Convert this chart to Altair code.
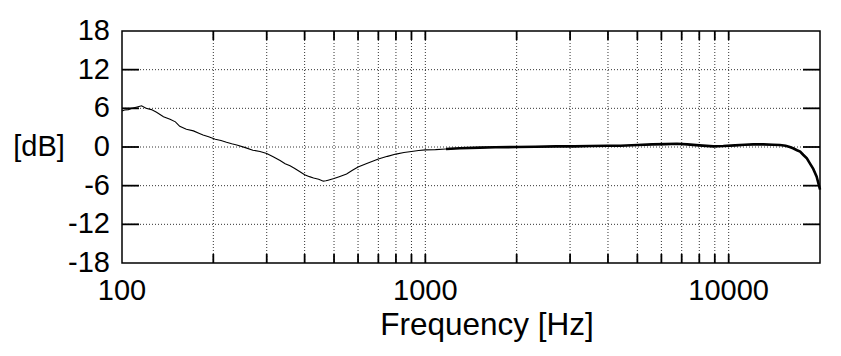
import altair as alt
import pandas as pd

# Frequency response
freq = [100, 102, 105, 108, 113, 116, 120, 125, 130, 137, 144, 150, 155, 163, 172, 180,
        185, 193, 203, 212, 221, 230, 239, 255, 270, 285, 300, 315, 332, 345, 358, 370,
        385, 400, 415, 428, 445, 461, 470, 478, 490, 500, 520, 550, 575, 600, 641, 670,
        700, 750, 800, 850, 900, 950, 1000, 1080, 1170, 1300, 1510, 1700, 2000, 2300,
        2700, 3100, 3500, 4000, 4400, 5000, 5600, 6200, 6750, 7300, 8000, 8900, 9600,
        10500, 11300, 12060, 13000, 14000, 14750, 15400, 15900, 16300, 16800, 17200,
        17600, 18100, 18500, 19000, 19500, 20000]
db = [5.6, 5.75, 5.8, 6.0, 6.26, 6.4, 6.0, 5.8, 5.4, 4.7, 4.3, 3.9, 3.2, 2.75, 2.5, 2.1,
      1.86, 1.6, 1.2, 1.0, 0.73, 0.5, 0.3, -0.1, -0.5, -0.7, -1.0, -1.5, -2.1, -2.6, -2.9, -3.3,
      -3.8, -4.3, -4.6, -4.8, -5.0, -5.3, -5.25, -5.15, -5.0, -4.9, -4.6, -4.2, -3.6, -3.1, -2.55, -2.2,
      -1.87, -1.45, -1.1, -0.85, -0.7, -0.55, -0.45, -0.4, -0.3, -0.2, -0.1, -0.05, 0.0, 0.05,
      0.1, 0.1, 0.15, 0.2, 0.2, 0.3, 0.4, 0.45, 0.5, 0.4, 0.25, 0.1, 0.15,
      0.25, 0.35, 0.4, 0.4, 0.35, 0.3, 0.2, 0.0, -0.2, -0.5, -0.7,
      -1.2, -1.75, -2.5, -3.4, -4.6, -6.6]

# Grid / tick positions and tick labels
x_lines = [200, 300, 400, 500, 600, 700, 800, 900, 1000, 2000, 3000, 4000, 5000,
           6000, 7000, 8000, 9000, 10000]
y_lines = [-12, -6, 0, 6, 12]
x_label_values = [100, 1000, 10000]
x_label_text = ["100", "1000", "10000"]
y_label_values = [-18, -12, -6, 0, 6, 12, 18]
y_label_text = ["-18", "-12", "-6", "0", "6", "12", "18"]
x_title = "Frequency [Hz]"
y_title = "[dB]"

W, H = 698, 232
FONT = "Liberation Sans"
XT, YT = 9, 17  # inward tick lengths

df = pd.DataFrame({"f": freq, "dB": db})
df_hf = df[df["f"] >= 1100]
xg = pd.DataFrame({"f": x_lines})
yg = pd.DataFrame({"dB": y_lines})
xl = pd.DataFrame({"f": x_label_values, "t": x_label_text})
yl = pd.DataFrame({"dB": y_label_values, "t": y_label_text})

xscale = alt.Scale(type="log", domain=[100, 20000], nice=False)
yscale = alt.Scale(domain=[-18, 18], nice=False, zero=False)
X = alt.X("f:Q", scale=xscale, axis=None)
Y = alt.Y("dB:Q", scale=yscale, axis=None)

grid_kw = dict(color="#333333", strokeWidth=1, strokeDash=[1, 2])
tick_kw = dict(color="black", strokeWidth=1.8)

grid_x = alt.Chart(xg).mark_rule(**grid_kw).encode(x=X, y=alt.value(0), y2=alt.value(H))
grid_y = alt.Chart(yg).mark_rule(**grid_kw).encode(y=Y, x=alt.value(0), x2=alt.value(W))

tick_left = alt.Chart(yg).mark_rule(**tick_kw).encode(y=Y, x=alt.value(0), x2=alt.value(YT))
tick_right = alt.Chart(yg).mark_rule(**tick_kw).encode(y=Y, x=alt.value(W - YT), x2=alt.value(W))
tick_bottom = alt.Chart(xg).mark_rule(**tick_kw).encode(x=X, y=alt.value(H - XT), y2=alt.value(H))
tick_top = alt.Chart(xg).mark_rule(**tick_kw).encode(x=X, y=alt.value(0), y2=alt.value(XT))

line = alt.Chart(df).mark_line(color="black", strokeWidth=1.1).encode(x=X, y=Y)
line_hf = alt.Chart(df_hf).mark_line(color="black", strokeWidth=2.6).encode(x=X, y=Y)

x_labels = alt.Chart(xl).mark_text(
    font=FONT, fontSize=29, color="black", align="center", baseline="top"
).encode(x=X, y=alt.value(H + 14), text="t:N")
y_labels = alt.Chart(yl).mark_text(
    font=FONT, fontSize=29, color="black", align="right", baseline="middle"
).encode(y=Y, x=alt.value(-12), text="t:N")

x_title_mark = alt.Chart(pd.DataFrame({"t": [x_title]})).mark_text(
    font=FONT, fontSize=31.5, color="black", align="center", baseline="alphabetic"
).encode(x=alt.value(365), y=alt.value(H + 72), text="t:N")
y_title_mark = alt.Chart(pd.DataFrame({"t": [y_title]})).mark_text(
    font=FONT, fontSize=29, color="black", align="center", baseline="middle"
).encode(x=alt.value(-83), y=alt.value(H / 2), text="t:N")

chart = alt.layer(
    grid_x, grid_y, line, line_hf, tick_left, tick_right, tick_bottom, tick_top,
    x_labels, y_labels, x_title_mark, y_title_mark,
).properties(
    width=W, height=H,
    background="white",
    autosize=alt.AutoSizeParams(type="none"),
    padding={"left": 114, "top": 23, "right": 10, "bottom": 90},
).configure_view(stroke="black", strokeWidth=1.5)

chart.save("out.html", embed_options={"renderer": "svg", "actions": False})
